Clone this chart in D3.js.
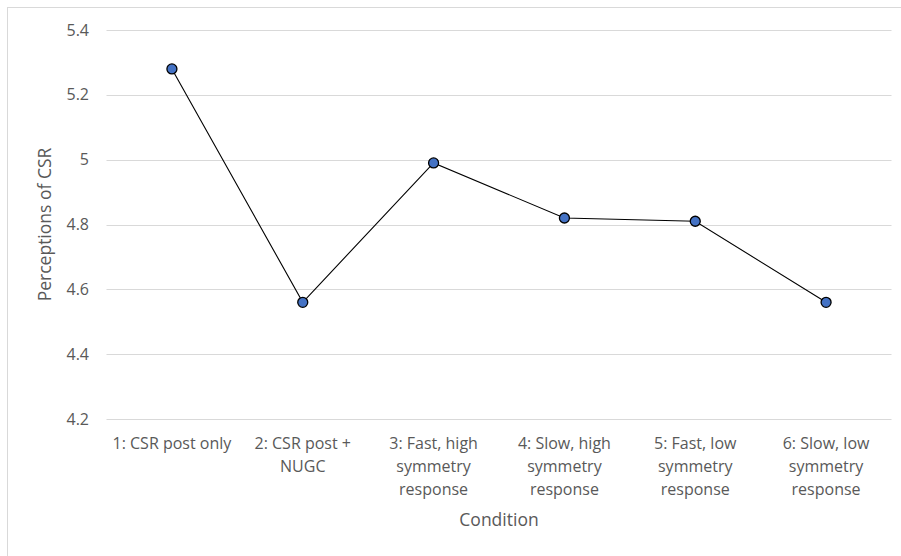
<!DOCTYPE html>
<html>
<head>
<meta charset="utf-8">
<script src="https://cdn.jsdelivr.net/npm/d3@7"></script>
<style>
  body { margin: 0; background: #fff; }
  text { font-family: "Open Sans", "Liberation Sans", sans-serif; fill: #595959; }
</style>
</head>
<body>
<svg id="chart" width="901" height="556"></svg>
<script>
var categories = ["1", "2", "3", "4", "5", "6"];
var categoryLabels = [
    ["1: CSR post only"],
    ["2: CSR post +", "NUGC"],
    ["3: Fast, high", "symmetry", "response"],
    ["4: Slow, high", "symmetry", "response"],
    ["5: Fast, low", "symmetry", "response"],
    ["6: Slow, low", "symmetry", "response"]
];
var csrValues = [5.28, 4.56, 4.99, 4.82, 4.81, 4.56];
var yTicks = [4.2, 4.4, 4.6, 4.8, 5, 5.2, 5.4];

var svg = d3.select("#chart");

// outer chart border (runs off the right and bottom edges)
svg.append("rect")
    .attr("x", 7.5).attr("y", 7.5)
    .attr("width", 910).attr("height", 560)
    .style("fill", "none")
    .style("stroke", "#d9d9d9");

var x = d3.scaleBand().domain(categories).range([106.5, 891.5]);
var y = d3.scaleLinear().domain([4.2, 5.4]).range([419, 30]);

// gridlines
svg.append("g").selectAll("line")
    .data(yTicks)
    .enter().append("line")
    .attr("x1", 106.5).attr("x2", 891.5)
    .attr("y1", function (d) { return Math.round(y(d)) + 0.5; })
    .attr("y2", function (d) { return Math.round(y(d)) + 0.5; })
    .style("stroke", "#d9d9d9")
    .style("stroke-width", 1);

// y tick labels
svg.append("g").selectAll("text")
    .data(yTicks)
    .enter().append("text")
    .attr("x", 89)
    .attr("y", function (d) { return y(d) + 5.5; })
    .attr("text-anchor", "end")
    .style("font-size", "16px")
    .text(function (d) { return d3.format("~g")(d); });

// category labels, one tspan per line
var labels = svg.append("g").selectAll("text")
    .data(categories)
    .enter().append("text")
    .attr("text-anchor", "middle")
    .style("font-size", "16px");

labels.each(function (d, i) {
    var t = d3.select(this);
    categoryLabels[i].forEach(function (line, j) {
        t.append("tspan")
            .attr("x", x(d) + x.bandwidth() / 2)
            .attr("y", 449 + j * 23)
            .text(line);
    });
});

// line + markers
var line = d3.line()
    .x(function (d, i) { return x(categories[i]) + x.bandwidth() / 2; })
    .y(function (d) { return y(d); });

svg.append("path")
    .datum(csrValues)
    .attr("d", line)
    .style("fill", "none")
    .style("stroke", "#000")
    .style("stroke-width", 1.1);

svg.append("g").selectAll("circle")
    .data(csrValues)
    .enter().append("circle")
    .attr("cx", function (d, i) { return x(categories[i]) + x.bandwidth() / 2; })
    .attr("cy", function (d) { return y(d); })
    .attr("r", 5)
    .style("fill", "#4472c4")
    .style("stroke", "#000")
    .style("stroke-width", 1.3);

// axis titles
svg.append("text")
    .attr("transform", "translate(51," + ((30 + 419) / 2) + ") rotate(-90)")
    .attr("text-anchor", "middle")
    .style("font-size", "17.5px")
    .text("Perceptions of CSR");

svg.append("text")
    .attr("x", 499)
    .attr("y", 526)
    .attr("text-anchor", "middle")
    .style("font-size", "17.5px")
    .text("Condition");
</script>
</body>
</html>
